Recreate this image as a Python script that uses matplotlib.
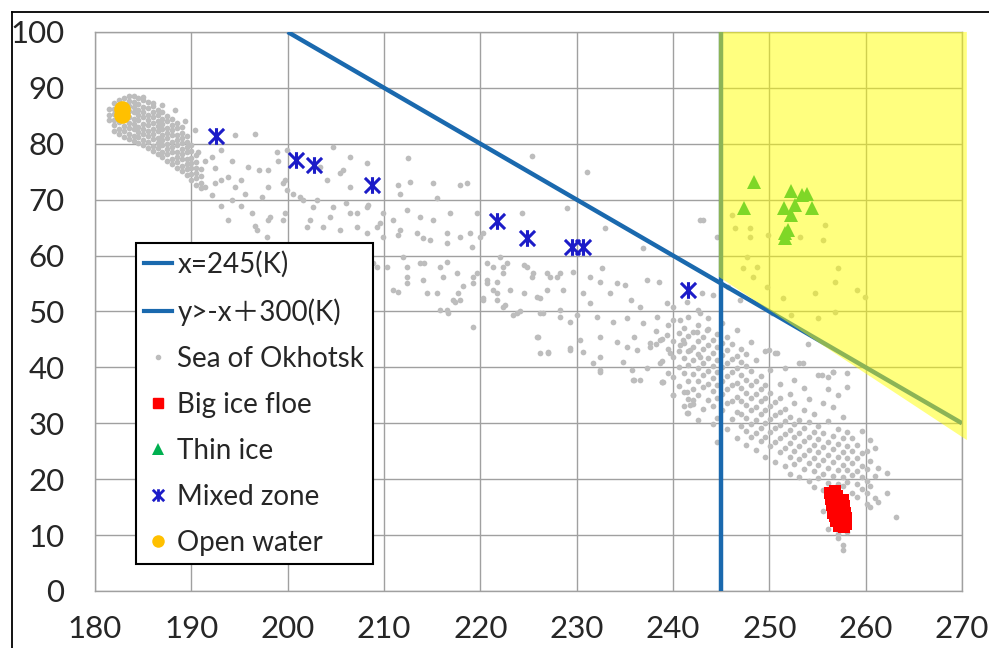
import matplotlib
matplotlib.use('Agg')
import matplotlib.pyplot as plt
from matplotlib.lines import Line2D
from matplotlib.path import Path
from matplotlib.patches import Polygon

plt.rcParams['font.family'] = ['Lato', 'Noto Sans CJK JP', 'DejaVu Sans']

# ---- data ----
# dense cloud near the open water point: (x, [y values])
okhotsk_blob = [
    (181.5, [84.2, 85.1, 86.3]),
    (182.0, [82.3, 83.4, 84.2, 85.4, 86.2, 87.3]),
    (182.5, [81.8, 82.7, 83.9, 84.8, 85.7, 86.9, 87.8]),
    (183.0, [81.2, 82.3, 83.1, 84.2, 85.3, 86.1, 87.2, 88.1]),
    (183.5, [80.8, 81.7, 82.9, 83.8, 84.7, 85.9, 86.8, 87.7, 88.5]),
    (184.0, [80.5, 81.4, 82.6, 83.5, 84.4, 85.6, 86.5, 87.4, 88.6]),
    (184.5, [80.1, 81.2, 82.1, 83.0, 84.2, 85.1, 86.0, 87.2, 88.2]),
    (185.0, [79.7, 80.6, 81.8, 82.7, 83.6, 84.8, 85.7, 86.6, 87.8, 88.4]),
    (185.5, [79.3, 80.4, 81.3, 82.2, 83.4, 84.3, 85.2, 86.4, 87.4]),
    (186.0, [78.7, 79.6, 80.8, 81.7, 82.6, 83.8, 84.7, 85.6, 86.8, 87.3]),
    (186.5, [78.1, 79.2, 80.1, 81.0, 82.2, 83.1, 84.0, 85.2, 86.1]),
    (187.0, [77.6, 78.5, 79.7, 80.6, 81.5, 82.7, 83.6, 84.5, 85.7]),
    (187.5, [77.0, 78.1, 79.0, 79.9, 81.1, 82.0, 82.9, 84.1, 85.0]),
    (188.0, [76.4, 77.3, 78.5, 79.4, 80.3, 81.5, 82.4, 83.3, 84.4]),
    (188.5, [75.7, 76.8, 77.7, 78.6, 79.8, 80.7, 81.6, 82.8, 83.7]),
    (189.0, [75.1, 76.0, 77.2, 78.1, 79.0, 80.2, 81.1, 82.0, 83.0]),
    (189.5, [74.4, 75.5, 76.4, 77.3, 78.5, 79.4, 80.3, 81.3]),
    (190.0, [73.6, 74.5, 75.7, 76.6, 77.5, 78.7, 79.8]),
    (190.5, [72.7, 73.8, 74.7, 75.6, 76.8, 78.0]),
    (191.0, [72.1, 73.0, 74.2, 75.4]),
]

# dense band in the lower right: (x, [y values])
okhotsk_band = [
    (238.2, [44.1, 46.5]),
    (238.9, [37.4, 41.2, 45.0]),
    (239.5, [39.0, 43.3, 47.6]),
    (240.0, [35.1, 38.2, 41.9, 44.8, 48.4]),
    (240.6, [36.6, 40.1, 43.0, 46.2]),
    (241.1, [33.0, 35.6, 39.0, 41.7, 44.3, 47.0]),
    (241.6, [31.8, 34.4, 37.5, 40.4, 42.9, 45.6, 49.0]),
    (242.1, [33.5, 36.2, 38.8, 41.3, 43.7, 46.4]),
    (242.6, [30.5, 35.0, 37.6, 39.9, 42.4, 44.8, 47.5, 50.2]),
    (243.1, [32.6, 36.4, 38.6, 40.8, 43.2, 45.4]),
    (243.6, [34.2, 37.0, 39.3, 41.6, 44.0, 46.8, 48.8]),
    (244.1, [29.8, 33.1, 35.8, 38.1, 40.3, 42.5, 44.9]),
    (244.6, [26.7, 31.0, 34.6, 36.9, 39.2, 41.4, 43.6, 46.0]),
    (245.1, [32.3, 35.3, 37.6, 40.0, 42.2, 44.4, 48.0]),
    (245.6, [28.9, 33.6, 36.2, 38.4, 40.8, 43.1, 45.5]),
    (246.1, [30.8, 34.0, 36.9, 39.1, 41.5, 44.2]),
    (246.6, [27.4, 32.1, 34.7, 37.2, 39.8, 42.0, 46.6]),
    (247.1, [29.5, 31.6, 33.9, 36.3, 38.6, 40.9, 43.3]),
    (247.6, [26.1, 28.6, 30.9, 33.2, 35.5, 37.8, 40.2, 42.4]),
    (248.1, [27.5, 29.9, 32.3, 34.6, 36.9, 39.3, 44.6]),
    (248.6, [25.2, 28.2, 30.6, 32.9, 35.2, 37.6, 41.4]),
    (249.1, [26.8, 29.2, 31.6, 33.9, 36.2, 38.5]),
    (249.6, [24.0, 27.6, 30.0, 32.4, 34.6, 36.9, 43.0]),
    (250.1, [25.9, 28.4, 30.8, 33.1, 35.4, 39.6]),
    (250.6, [23.1, 26.6, 29.1, 31.5, 33.8, 42.6]),
    (251.1, [24.8, 27.3, 29.7, 32.1, 34.5, 37.0]),
    (251.6, [22.4, 25.6, 28.0, 30.4, 32.6, 39.8]),
    (252.1, [21.0, 23.9, 26.4, 28.8, 31.2, 35.2]),
    (252.6, [22.8, 25.1, 27.5, 29.8, 33.6, 37.8]),
    (253.1, [20.4, 23.6, 25.9, 28.3, 30.6, 40.8]),
    (253.6, [21.9, 24.4, 26.8, 29.1, 32.4, 36.3]),
    (254.1, [19.6, 22.9, 25.3, 27.6, 30.2, 34.4]),
    (254.6, [18.6, 21.4, 23.8, 26.2, 28.5, 31.6]),
    (255.1, [20.2, 22.5, 24.9, 27.1, 29.6, 38.6]),
    (255.6, [14.3, 18.0, 21.0, 23.4, 25.8, 28.2, 33.7]),
    (256.1, [11.0, 19.4, 22.0, 24.3, 26.6, 30.4, 36.1, 38.3]),
    (256.6, [20.6, 23.0, 25.4, 27.8, 32.9, 39.2]),
    (257.1, [9.5, 10.2, 19.1, 21.7, 24.0, 26.3, 29.0, 35.0]),
    (257.6, [7.4, 8.2, 18.8, 20.4, 22.6, 24.8, 27.3, 31.1]),
    (258.1, [10.5, 19.5, 21.6, 23.8, 26.0, 28.5, 36.5, 39.0]),
    (258.6, [17.6, 20.7, 22.9, 25.1, 27.4]),
    (259.1, [16.8, 19.2, 21.5, 23.7, 26.2]),
    (259.6, [18.2, 20.3, 22.4, 24.6, 28.6]),
    (260.1, [15.6, 17.5, 19.6, 21.8, 25.0]),
    (260.5, [15.0, 18.8, 23.2, 27.0]),
    (261.0, [16.6, 20.6, 25.6]),
    (261.3, [15.9, 22.0]),
    (262.2, [17.5, 21.1]),
    (263.1, [13.2]),
]

# scattered points in between
okhotsk_scatter = [
    (190.4, 82.5), (188.3, 86.0), (189.3, 84.0), (186.9, 87.0), (190.7, 78.6), (191.4, 77.0),
    (194.2, 77.0), (194.5, 81.5), (196.6, 81.8), (198.9, 78.6), (199.0, 77.0), (192.5, 75.6),
    (193.8, 74.1), (195.2, 73.5), (197.0, 75.3), (198.0, 72.3), (191.4, 72.3), (192.1, 70.8),
    (193.1, 68.8), (194.2, 69.9), (195.6, 71.1), (196.3, 67.6), (197.3, 70.5), (198.0, 66.4),
    (199.7, 67.6), (199.7, 73.5), (199.9, 71.7), (195.2, 68.8), (193.8, 66.4), (196.6, 65.2),
    (194.5, 72.3), (193.1, 73.5), (192.5, 72.9), (195.9, 75.9), (198.0, 75.3), (192.1, 77.6),
    (193.1, 78.8), (199.9, 78.9), (204.7, 79.4), (206.5, 77.7), (208.2, 76.6), (212.5, 77.4),
    (217.9, 72.6), (218.6, 72.9), (215.1, 72.9), (212.7, 73.2), (211.7, 71.1), (203.4, 75.9),
    (204.1, 73.5), (205.4, 74.7), (206.5, 72.3), (199.5, 72.9), (200.6, 71.1), (201.6, 69.9),
    (203.0, 69.9), (204.7, 68.7), (206.1, 69.4), (207.2, 67.6), (208.2, 68.7), (209.9, 67.6),
    (210.9, 66.4), (212.4, 68.2), (213.7, 66.9), (215.1, 66.4), (216.9, 67.6), (219.7, 67.6),
    (220.3, 64.0), (218.9, 64.0), (216.5, 64.0), (214.8, 62.8), (213.4, 64.0), (211.7, 64.6),
    (209.3, 65.1), (208.2, 64.0), (205.4, 64.6), (203.7, 65.1), (202.3, 66.4), (199.5, 66.4),
    (198.2, 66.9), (196.8, 64.6), (197.9, 63.3), (209.9, 63.3), (212.0, 59.7), (212.4, 58.0),
    (214.1, 58.6), (215.8, 58.0), (217.6, 56.9), (210.9, 53.8), (212.4, 55.1), (214.5, 53.3),
    (216.5, 50.3), (217.9, 52.1), (219.2, 55.1), (220.7, 58.6), (208.9, 58.6), (205.7, 75.3),
    (211.5, 72.6), (215.5, 70.3), (201.3, 70.5), (202.6, 68.7), (204.4, 66.9), (206.5, 67.6),
    (208.3, 69.0), (209.6, 65.8), (211.5, 63.6), (214.0, 63.2), (216.5, 62.3), (217.9, 63.4),
    (219.1, 61.6), (220.0, 63.4), (202.0, 65.1), (207.2, 65.1), (209.3, 58.0), (210.3, 58.0),
    (213.7, 58.7), (216.5, 58.9), (214.0, 55.6), (216.1, 56.2), (211.4, 53.5), (215.5, 53.3),
    (217.2, 52.1), (218.2, 54.5), (219.2, 56.2), (220.7, 55.1), (221.7, 53.3), (222.0, 59.8),
    (220.3, 52.1), (222.4, 50.8), (221.3, 58.0), (212.4, 56.2), (219.7, 56.9), (217.7, 53.3),
    (217.4, 51.7), (215.8, 50.3), (216.6, 49.7), (219.2, 47.2), (220.3, 52.4), (220.7, 55.6),
    (221.7, 55.3), (221.3, 53.8), (222.4, 56.9), (222.8, 58.7), (224.5, 58.3), (225.5, 56.9),
    (226.9, 56.9), (228.0, 56.2), (224.5, 53.3), (225.9, 52.6), (226.9, 53.8), (221.7, 52.1),
    (222.6, 51.2), (223.4, 49.4), (224.1, 50.0), (226.5, 49.7), (228.3, 50.3), (226.0, 45.4),
    (226.2, 42.6), (227.0, 42.8), (225.4, 77.8), (231.1, 75.0), (229.0, 68.5), (224.3, 67.6),
    (232.9, 64.9), (236.9, 61.4), (242.8, 66.4), (222.3, 58.0), (224.8, 58.0), (225.4, 56.2),
    (227.2, 56.2), (228.3, 56.9), (229.6, 57.1), (231.4, 56.2), (232.6, 57.8), (232.4, 55.3),
    (234.2, 55.1), (235.0, 54.7), (237.3, 55.6), (238.5, 55.3), (223.1, 53.8), (226.2, 52.4),
    (228.6, 53.8), (230.7, 53.3), (231.4, 51.5), (233.5, 53.3), (235.6, 52.1), (236.6, 50.8),
    (239.4, 51.5), (240.0, 50.8), (241.5, 51.7), (243.0, 53.3), (244.2, 53.0), (223.8, 49.7),
    (226.2, 49.7), (228.3, 49.0), (230.0, 49.4), (232.1, 49.0), (233.8, 48.1), (235.2, 48.8),
    (236.9, 47.9), (238.3, 49.0), (240.7, 48.4), (242.8, 49.7), (243.5, 46.7), (229.3, 48.1),
    (225.9, 45.4), (230.3, 44.9), (232.4, 45.4), (234.2, 44.5), (235.9, 45.4), (237.6, 44.3),
    (239.4, 45.8), (241.0, 44.9), (242.5, 46.3), (235.2, 43.6), (236.3, 43.1), (237.6, 43.6),
    (238.6, 44.9), (239.7, 42.6), (240.7, 44.0), (241.8, 43.1), (242.8, 41.9), (230.7, 42.8),
    (231.7, 40.8), (232.4, 39.2), (234.8, 41.0), (235.7, 39.5), (237.3, 39.9), (238.6, 40.8),
    (235.8, 37.7), (236.6, 37.7), (238.9, 37.4), (240.0, 35.1), (241.4, 35.6), (242.1, 34.2),
    (241.8, 33.3), (241.4, 31.8), (229.3, 43.5), (232.4, 41.9), (227.0, 42.6), (229.3, 43.1),
    (232.4, 39.5), (235.9, 37.7), (239.0, 37.4),
    (246.1, 67.3), (246.4, 64.9), (248.0, 64.9), (248.0, 63.3), (249.9, 63.7), (253.2, 63.3),
    (255.8, 65.5), (255.6, 62.8), (247.7, 59.7), (248.7, 58.0), (247.3, 57.8), (248.3, 56.2),
    (249.8, 54.4), (251.4, 52.4), (257.1, 57.8), (256.8, 55.3), (254.7, 53.3), (259.1, 53.8),
    (259.9, 52.6), (255.0, 48.8), (256.8, 49.9), (252.2, 49.4), (250.3, 49.7), (247.0, 52.1),
    (245.7, 54.4), (243.1, 66.4), (244.6, 63.3), (250.8, 42.6), (253.5, 40.8), (255.5, 38.6),
    (256.6, 39.2), (250.0, 43.1), (254.0, 44.2),
]

ice_floe_x = [256.3, 256.8, 257.0, 256.4, 256.9, 256.5, 257.2, 257.8, 256.7, 257.3, 257.9,
              256.8, 257.4, 258.0, 256.9, 257.5, 258.0, 257.2, 257.7, 256.6, 257.6]
ice_floe_y = [17.5, 17.8, 17.0, 16.5, 16.2, 15.3, 15.6, 15.2, 14.5, 14.3, 14.0,
              13.5, 13.2, 13.0, 12.5, 12.2, 12.0, 11.6, 11.5, 14.0, 16.3]

thin_ice_x = [248.4, 247.4, 252.3, 253.4, 253.9, 254.4, 251.5, 252.3, 252.7, 251.6, 251.6, 251.9]
thin_ice_y = [73.2, 68.5, 71.6, 70.8, 71.1, 68.5, 68.5, 67.3, 69.1, 64.0, 63.1, 64.6]

mixed_x = [192.6, 200.9, 202.7, 208.7, 221.7, 224.8, 229.5, 230.7, 241.6]
mixed_y = [81.3, 77.1, 76.2, 72.6, 66.1, 63.1, 61.6, 61.6, 53.8]

open_x = [182.8, 182.8]
open_y = [86.3, 85.1]

limit_x = 245
diag_x = [200, 270]
diag_y = [100, 30]
zone_x = [244.75, 270.5, 270.5, 244.75]
zone_y = [100, 100, 27.0, 56.2]

# ---- colours ----
c_blue = '#1a69ae'
c_gray = '#bdbdbd'
c_red = '#ff0000'
c_green = '#00b050'
c_star = '#1c1cc8'
c_orange = '#ffc000'

ok_x, ok_y = [], []
for cx, ys in okhotsk_blob + okhotsk_band:
    for cy in ys:
        ok_x.append(cx)
        ok_y.append(cy)
for px, py in okhotsk_scatter:
    ok_x.append(px)
    ok_y.append(py)

star = Path([(-1, -1), (1, 1), (-1, 1), (1, -1), (0, -1.1), (0, 1.1)],
            [Path.MOVETO, Path.LINETO] * 3)

fig = plt.figure(figsize=(9.89, 6.48), dpi=100)
ax = fig.add_axes([0.0961, 0.088, 0.8766, 0.8627])

ax.scatter(ok_x, ok_y, s=17, color=c_gray, linewidths=0, zorder=2)
ax.plot(ice_floe_x, ice_floe_y, ls='none', marker='s', ms=8.5, color=c_red, mew=0, zorder=3)
ax.plot(thin_ice_x, thin_ice_y, ls='none', marker='^', ms=10.5, color=c_green, mew=0, zorder=3)
ax.plot(mixed_x, mixed_y, ls='none', marker=star, ms=12, mew=2.2, color=c_star, zorder=4)
ax.plot(open_x, open_y, ls='none', marker='o', ms=12, color=c_orange, mew=0, zorder=4)

ax.plot([limit_x, limit_x], [0, 100], color=c_blue, lw=3.2, zorder=5, solid_capstyle='butt')
ax.plot(diag_x, diag_y, color=c_blue, lw=3.2, zorder=5, solid_capstyle='butt')
ax.add_patch(Polygon(list(zip(zone_x, zone_y)), closed=True, facecolor='#ffff00',
                     alpha=0.5, edgecolor='none', zorder=6, clip_on=False))

ax.set_xlim(180, 270)
ax.set_ylim(0, 100)
ax.set_xticks(range(180, 271, 10))
ax.set_yticks(range(0, 101, 10))
ax.grid(True, color='#a0a0a0', lw=1)
ax.set_axisbelow(True)
for sp in ax.spines.values():
    sp.set_color('#a0a0a0')
    sp.set_linewidth(1)
ax.tick_params(length=0, labelsize=22.5, labelcolor='#262626')
ax.tick_params(axis='x', pad=17)
ax.tick_params(axis='y', pad=22)

handles = [
    Line2D([], [], color=c_blue, lw=3),
    Line2D([], [], color=c_blue, lw=3),
    Line2D([], [], ls='none', marker='o', ms=3, color=c_gray),
    Line2D([], [], ls='none', marker='s', ms=7, color=c_red),
    Line2D([], [], ls='none', marker='^', ms=8, color=c_green, mew=0),
    Line2D([], [], ls='none', marker=star, ms=9, mew=2, color=c_star),
    Line2D([], [], ls='none', marker='o', ms=9, color=c_orange, mew=0),
]
labels = ['x=245(K)', 'y>-x＋300(K)', 'Sea of Okhotsk', 'Big ice floe',
          'Thin ice', 'Mixed zone', 'Open water']
leg = ax.legend(handles, labels, loc='upper left', bbox_to_anchor=(0.047, 0.6225),
                fontsize=20, frameon=True, fancybox=False, framealpha=1,
                edgecolor='black', borderpad=0.3, handlelength=1.0,
                handletextpad=0.2, labelspacing=0.72, borderaxespad=0)
leg.get_frame().set_linewidth(1.5)
leg.set_zorder(10)
for t in leg.get_texts():
    t.set_color('#262626')

fig.add_artist(Line2D([12 / 989, 1], [1 - 12 / 648, 1 - 12 / 648],
                      transform=fig.transFigure, color='black', lw=1.3))
fig.add_artist(Line2D([12 / 989, 12 / 989], [0, 1 - 12 / 648],
                      transform=fig.transFigure, color='black', lw=1.3))

fig.savefig('out.png', dpi=100)
